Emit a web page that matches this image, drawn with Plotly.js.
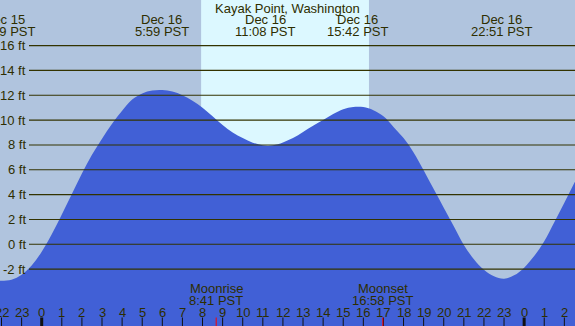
<!DOCTYPE html>
<html>
<head>
<meta charset="utf-8">
<script src="https://cdn.plot.ly/plotly-3.0.1.min.js"></script>
<style>html,body{margin:0;padding:0;background:#b0c4de;}#chart{width:575px;height:326px;}</style>
</head>
<body>
<div id="chart"></div>
<script>
// Hours relative to Dec 16 00:00 PST, tide height in feet (every half hour)
const hours = [-2.5, -2.0, -1.5, -1.0, -0.5, 0.0, 0.5, 1.0, 1.5, 2.0, 2.5, 3.0, 3.5, 4.0, 4.5, 5.0, 5.5, 6.0, 6.5, 7.0, 7.5, 8.0, 8.5, 9.0, 9.5, 10.0, 10.5, 11.0, 11.5, 12.0, 12.5, 13.0, 13.5, 14.0, 14.5, 15.0, 15.5, 16.0, 16.5, 17.0, 17.5, 18.0, 18.5, 19.0, 19.5, 20.0, 20.5, 21.0, 21.5, 22.0, 22.5, 23.0, 23.5, 24.0, 24.5, 25.0, 25.5, 26.0, 26.5, 27.0];
const heights = [-2.85, -2.93, -2.85, -2.45, -1.7, -0.6, 0.8, 2.4, 4.05, 5.7, 7.2, 8.5, 9.7, 10.75, 11.65, 12.15, 12.38, 12.42, 12.3, 12.0, 11.55, 11.0, 10.3, 9.6, 9.0, 8.55, 8.18, 7.97, 7.97, 8.2, 8.55, 9.05, 9.55, 10.0, 10.5, 10.88, 11.06, 11.05, 10.8, 10.3, 9.45, 8.55, 7.4, 5.97, 4.45, 2.95, 1.45, -0.05, -1.2, -2.05, -2.58, -2.77, -2.5, -1.88, -0.95, 0.25, 1.78, 3.35, 4.95, 6.5];

const extremeTimes = [-1.85, 5.98, 11.13, 15.70, 22.85];
const extremeDates = ['Dec 15', 'Dec 16', 'Dec 16', 'Dec 16', 'Dec 16'];
const extremeLabels = ['22:09 PST', '5:59 PST', '11:08 PST', '15:42 PST', '22:51 PST'];

const levels = [-2, 0, 2, 4, 6, 8, 10, 12, 14, 16];
const levelLabels = ['-2 ft', '0 ft', '2 ft', '4 ft', '6 ft', '8 ft', '10 ft', '12 ft', '14 ft', '16 ft'];

const hourTicks = [-2, -1, 0, 1, 2, 3, 4, 5, 6, 7, 8, 9, 10, 11, 12, 13, 14, 15, 16, 17, 18, 19, 20, 21, 22, 23, 24, 25, 26];
const hourLabels = ['22', '23', '0', '1', '2', '3', '4', '5', '6', '7', '8', '9', '10', '11', '12', '13', '14', '15', '16', '17', '18', '19', '20', '21', '22', '23', '0', '1', '2'];
const midnights = [0, 24];

const moonTimes = [8.68, 16.97];
const moonNames = ['Moonrise', 'Moonset'];
const moonLabels = ['8:41 PST', '16:58 PST'];

const sunrise = 7.93;
const sunset = 16.28;

const title = 'Kayak Point, Washington';

const W = 575, H = 326;
const X_RANGE = [-2.075, 26.53];
const Y_RANGE = [-6.58, 19.67];
const txt = '#2e2e00';
const fontFam = 'Liberation Sans, Arial, sans-serif';
const py = px => 1 - px / H;

const traces = [
  {x: [X_RANGE[0] - 1, X_RANGE[1] + 1], y: [Y_RANGE[0] - 2, Y_RANGE[0] - 2], mode: 'lines', line: {width: 0}, hoverinfo: 'skip', showlegend: false},
  {x: hours, y: heights, mode: 'lines', line: {width: 0, shape: 'spline', smoothing: 1}, fill: 'tonexty', fillcolor: '#4160d6', hoverinfo: 'skip', showlegend: false}
];

const shapes = [];
shapes.push({type: 'rect', xref: 'x', yref: 'paper', x0: sunrise, x1: sunset, y0: 0, y1: 1, fillcolor: '#dcf8ff', line: {width: 0}, layer: 'below'});
levels.forEach(v => shapes.push({type: 'line', xref: 'paper', yref: 'y', x0: 29 / W, x1: 1, y0: v, y1: v, line: {color: '#333300', width: 1.1}, layer: 'above'}));
hourTicks.forEach(h => shapes.push({type: 'line', xref: 'x', yref: 'paper', x0: h, x1: h, y0: 0, y1: 8.5 / H, line: {color: '#111', width: midnights.includes(h) ? 3 : 1}, layer: 'above'}));
moonTimes.forEach(h => shapes.push({type: 'line', xref: 'x', yref: 'paper', x0: h, x1: h, y0: 0, y1: 8.5 / H, line: {color: '#ff0000', width: 1}, layer: 'above'}));

const ann = [];
const A = (o) => Object.assign({showarrow: false, font: {family: fontFam, size: 13, color: txt}, xanchor: 'center', yanchor: 'middle', borderpad: 0}, o);
ann.push(A({text: title, xref: 'paper', yref: 'paper', x: 0.5, y: py(8.5)}));
extremeTimes.forEach((t, i) => {
  ann.push(A({text: extremeDates[i], xref: 'x', yref: 'paper', x: t, y: py(20)}));
  ann.push(A({text: extremeLabels[i], xref: 'x', yref: 'paper', x: t, y: py(32)}));
});
levels.forEach((v, i) => ann.push(A({text: levelLabels[i], xref: 'paper', yref: 'y', x: 27 / W, xanchor: 'right', y: v})));
hourTicks.forEach((h, i) => ann.push(A({text: hourLabels[i], xref: 'x', yref: 'paper', x: h, y: py(312)})));
moonTimes.forEach((t, i) => {
  ann.push(A({text: moonNames[i], xref: 'x', yref: 'paper', x: t, y: py(288.5)}));
  ann.push(A({text: moonLabels[i], xref: 'x', yref: 'paper', x: t, y: py(300.5)}));
});

const layout = {
  width: W, height: H,
  margin: {l: 0, r: 0, t: 0, b: 0, pad: 0},
  paper_bgcolor: '#b0c4de', plot_bgcolor: '#b0c4de',
  xaxis: {range: X_RANGE, visible: false, fixedrange: true},
  yaxis: {range: Y_RANGE, visible: false, fixedrange: true},
  shapes: shapes,
  annotations: ann,
  showlegend: false
};

Plotly.newPlot('chart', traces, layout, {staticPlot: true, displayModeBar: false});
</script>
</body>
</html>
